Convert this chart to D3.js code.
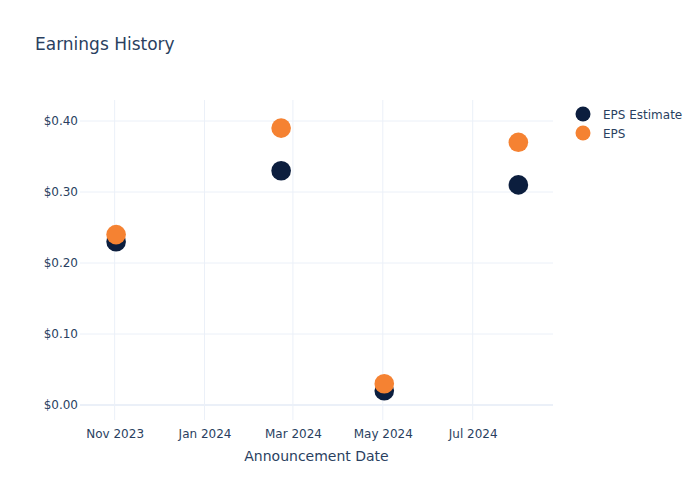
<!DOCTYPE html>
<html>
<head>
<meta charset="utf-8">
<script src="https://cdn.jsdelivr.net/npm/d3@7"></script>
<style>
  html, body { margin: 0; padding: 0; background: #fff; }
  svg { display: block; font-family: "DejaVu Sans", Verdana, sans-serif; }
</style>
</head>
<body>
<svg id="chart" width="700" height="500"></svg>
<script>
const dates = ["2023-11-02", "2024-02-22", "2024-05-02", "2024-08-01"];
const epsEstimate = [0.23, 0.33, 0.02, 0.31];
const eps = [0.24, 0.39, 0.03, 0.37];
const seriesNames = ["EPS Estimate", "EPS"];
const seriesColors = ["#0c1e3e", "#f58232"];
const xTickDates = ["2023-11-01", "2024-01-01", "2024-03-01", "2024-05-01", "2024-07-01"];
const yTicks = [0, 0.1, 0.2, 0.3, 0.4];

(function () {
const textColor = "#2a3f5f";
const gridColor = "#ebf0f8";
const parse = d3.utcParse("%Y-%m-%d");

const svg = d3.select("#chart");
const pl = 80, pr = 553, pt = 100, pb = 420;

const x = d3.scaleUtc()
  .domain([new Date(Date.UTC(2023, 9, 8, 12)), new Date(Date.UTC(2024, 7, 24, 12))])
  .range([pl, pr]);
const y = d3.scaleLinear()
  .domain([-0.0211, 0.4296])
  .range([pb, pt]);

const g = svg.append("g");
g.selectAll(".vgrid").data(xTickDates).enter().append("line")
  .attr("x1", d => x(parse(d))).attr("x2", d => x(parse(d)))
  .attr("y1", pt).attr("y2", pb)
  .attr("stroke", gridColor).attr("stroke-width", 1);
g.selectAll(".hgrid").data(yTicks.filter(v => v !== 0)).enter().append("line")
  .attr("x1", pl).attr("x2", pr)
  .attr("y1", d => y(d)).attr("y2", d => y(d))
  .attr("stroke", gridColor).attr("stroke-width", 1);
g.append("line")
  .attr("x1", pl).attr("x2", pr)
  .attr("y1", y(0)).attr("y2", y(0))
  .attr("stroke", gridColor).attr("stroke-width", 2);

const xAxis = d3.axisBottom(x)
  .tickValues(xTickDates.map(parse))
  .tickFormat(d3.utcFormat("%b %Y"))
  .tickSize(0).tickPadding(9);
const xg = svg.append("g").attr("transform", `translate(0,${pb})`).call(xAxis);
xg.select(".domain").remove();
xg.selectAll("text").attr("fill", textColor).style("font-size", "12px")
  .style("font-family", "DejaVu Sans, sans-serif");

const yAxis = d3.axisLeft(y)
  .tickValues(yTicks)
  .tickFormat(d => "$" + d.toFixed(2))
  .tickSize(0).tickPadding(2);
const yg = svg.append("g").attr("transform", `translate(${pl},0)`).call(yAxis);
yg.select(".domain").remove();
yg.selectAll("text").attr("fill", textColor).style("font-size", "12px")
  .style("font-family", "DejaVu Sans, sans-serif");

const series = [epsEstimate, eps];
series.forEach((vals, si) => {
  svg.append("g").selectAll("circle").data(vals).enter().append("circle")
    .attr("cx", (d, i) => x(parse(dates[i])))
    .attr("cy", d => y(d))
    .attr("r", 9.8)
    .attr("fill", seriesColors[si]);
});

svg.append("text").attr("x", 35).attr("y", 50)
  .attr("fill", textColor).style("font-size", "17px")
  .text("Earnings History");

svg.append("text").attr("x", (pl + pr) / 2).attr("y", 461)
  .attr("text-anchor", "middle")
  .attr("fill", textColor).style("font-size", "14px")
  .text("Announcement Date");

const lg = svg.append("g");
seriesNames.forEach((name, i) => {
  lg.append("circle").attr("cx", 583).attr("cy", 114 + i * 19).attr("r", 7.5)
    .attr("fill", seriesColors[i]);
  lg.append("text").attr("x", 603).attr("y", 114 + i * 19 + 4.5)
    .attr("fill", textColor).style("font-size", "12px").text(name);
});
})();
</script>
</body>
</html>
